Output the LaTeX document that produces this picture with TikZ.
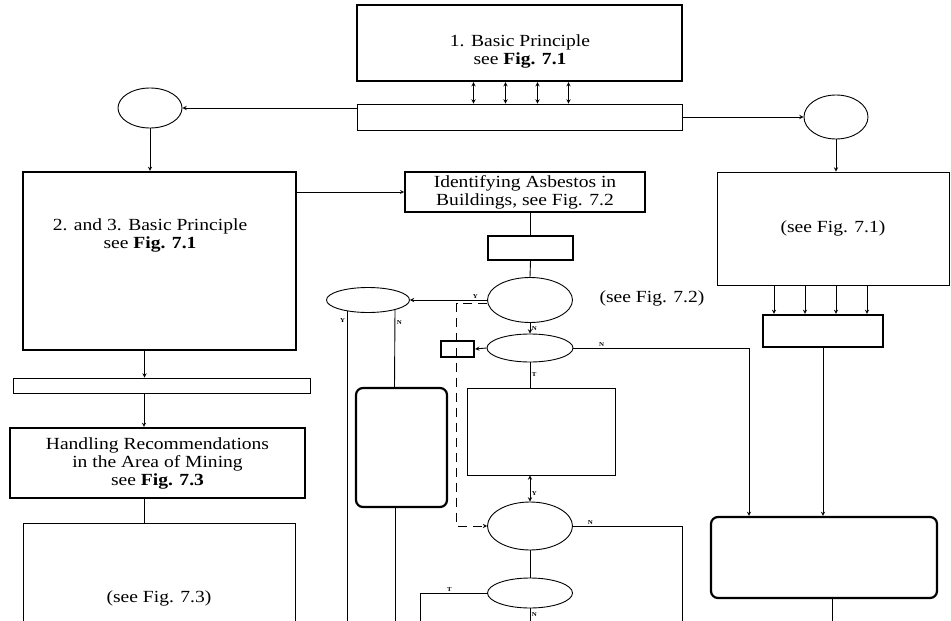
\documentclass[tikz,border=0pt]{standalone}
\usepackage{fontspec}
\setmainfont{Liberation Serif}[FakeStretch=1.15]
\usetikzlibrary{shapes.geometric, arrows, positioning, calc}

\begin{document}
\begin{tikzpicture}[
    x=1pt, y=-1pt,
    font=\fontsize{17}{18}\selectfont,
    box/.style={rectangle, draw=black, line width=0.9pt, inner sep=0pt, align=center},
    heavybox/.style={box, line width=2.2pt},
    roundbox/.style={heavybox, rounded corners=7pt},
    decision/.style={ellipse, draw=black, line width=0.9pt, inner sep=0pt},
    txt/.style={align=center, inner sep=0pt},
    tag/.style={font=\fontsize{6}{6}\selectfont\bfseries, inner sep=1.5pt},
    link/.style={line width=0.9pt},
    arrow/.style={link,->,>=stealth},
    dblarrow/.style={link,<->,>=stealth}
]
\useasboundingbox (0,0) rectangle (951,621);
\clip (0,0) rectangle (951,621);

\node (bp1) [heavybox, minimum width=325pt, minimum height=76pt] at (519.5,43) {};
\node (bp1txt) [txt] at (520,51) {1. Basic Principle\\ see \textbf{Fig. 7.1}};
\node (bar1) [box, minimum width=325pt, minimum height=26pt] at (519.5,117) {};
\node (ellL) [decision, minimum width=64pt, minimum height=40pt] at (150,108) {};
\node (ellR) [decision, minimum width=64pt, minimum height=44pt] at (836,117) {};

\node (bp23) [heavybox, minimum width=273pt, minimum height=178pt] at (159.5,261) {};
\node (bp23txt) [txt] at (150,235) {2. and 3. Basic Principle\\ see \textbf{Fig. 7.1}};
\node (bar2) [box, minimum width=297pt, minimum height=15pt] at (161.5,385.5) {};
\node (handling) [heavybox, minimum width=295pt, minimum height=70pt] at (157.5,463) {Handling Recommendations\\ in the Area of Mining\\ see \textbf{Fig. 7.3}};
\node (box73) [box, minimum width=272pt, minimum height=150pt] at (159,598) {(see Fig. 7.3)};

\node (ident) [box, line width=1.6pt, minimum width=240pt, minimum height=40pt] at (525,192) {Identifying Asbestos in\\ Buildings, see Fig. 7.2};
\node (store) [heavybox, minimum width=85pt, minimum height=24pt] at (530.5,248) {};
\node (ellA) [decision, minimum width=85pt, minimum height=45pt] at (530,300) {};
\node (see72) [txt] at (652,298) {(see Fig. 7.2)};
\node (ellB) [decision, minimum width=83pt, minimum height=25pt] at (368,300) {};
\node (tiny) [heavybox, minimum width=33pt, minimum height=16pt] at (457.5,349) {};
\node (ellD) [decision, minimum width=86pt, minimum height=28pt] at (530,348) {};
\node (boxE) [box, minimum width=148pt, minimum height=87pt] at (541,431.5) {};
\node (rbox1) [roundbox, minimum width=91pt, minimum height=119pt] at (401.5,447.5) {};
\node (ellF) [decision, minimum width=85pt, minimum height=48pt] at (530,526) {};
\node (ellG) [decision, minimum width=85pt, minimum height=30pt] at (530,593) {};

\node (boxR) [box, minimum width=232pt, minimum height=113pt] at (833,228.5) {(see Fig. 7.1)};
\node (sb2) [heavybox, minimum width=120pt, minimum height=32pt] at (823,331) {};
\node (rbox2) [roundbox, minimum width=226pt, minimum height=81pt] at (824,557.5) {};

\coordinate (btm) at (0,621);
\coordinate (yEnd) at (347,621);
\coordinate (fEnd) at (682,621);
\coordinate (gEnd) at (420,621);

\foreach \dx in {-46,-14,18,49}
    \draw [dblarrow] ([xshift=\dx pt]bp1.south) -- ([xshift=\dx pt]bar1.north);
\draw [arrow] ([yshift=9pt]bar1.west) -- (ellL.east);
\draw [arrow] (bar1.east) -- (ellR.west);
\draw [arrow] (ellL.south) -- (ellL.south |- bp23.north);
\draw [arrow] (bp23.east |- ident.west) -- (ident.west);

\draw [arrow] ([xshift=-15pt]bp23.south) -- ([xshift=-15pt]bp23.south |- bar2.north);
\draw [arrow] ([xshift=-13.5pt]handling.north |- bar2.south) -- ([xshift=-13.5pt]handling.north);
\draw [link] ([xshift=-13.5pt]handling.south) -- ([xshift=-13.5pt]handling.south |- box73.north);

\draw [link] (store.north |- ident.south) -- (store.north);
\draw [link] (store.south) -- (ellA.north);
\draw [arrow] (ellA.west) -- (ellB.east) node [tag, pos=0.15, above] {Y};
\draw [link] ([yshift=2pt]ellB.south -| yEnd) -- (yEnd) node [tag, pos=0.03, left] {Y};
\draw [link] ([xshift=27pt,yshift=3pt]ellB.south) -- ([xshift=-7pt]rbox1.north) node [tag, pos=0.16, right] {N};
\draw [link] ([xshift=-6pt]rbox1.south) -- ([xshift=-6pt]rbox1.south |- btm);
\draw [arrow] (ellA.south) -- (ellD.north) node [tag, midway, right] {N};
\draw [arrow] (ellD.west) -- (tiny.east);
\draw [arrow] (ellD.east) -| ([xshift=-75pt]rbox2.north) node [tag, pos=0.08, above] {N};
\draw [link] (ellD.south) -- (ellD.south |- boxE.north) node [tag, midway, right] {T};
\draw [dblarrow] (ellF.north |- boxE.south) -- (ellF.north) node [tag, pos=0.7, right] {Y};
\draw [arrow, dash pattern=on 9pt off 6pt] ([yshift=-3pt]ellA.west) -- ++(-30.5,0) |- (ellF.west);
\draw [link] (ellF.east) -| (fEnd) node [tag, pos=0.08, above] {N};
\draw [link] (ellF.south) -- (ellG.north);
\draw [link] (ellG.west) -| (gEnd) node [tag, pos=0.28, above] {T};
\draw [link] (ellG.south) -- (ellG.south |- btm) node [tag, midway, right] {N};

\draw [arrow] (ellR.south) -- (ellR.south |- boxR.north);
\foreach \dx in {-49,-18,13,44}
    \draw [arrow] ([xshift=\dx pt]sb2.north |- boxR.south) -- ([xshift=\dx pt]sb2.north);
\draw [arrow] (sb2.south) -- (sb2.south |- rbox2.north);
\draw [link] ([xshift=8pt]rbox2.south) -- ([xshift=8pt]rbox2.south |- btm);

\end{tikzpicture}
\end{document}
